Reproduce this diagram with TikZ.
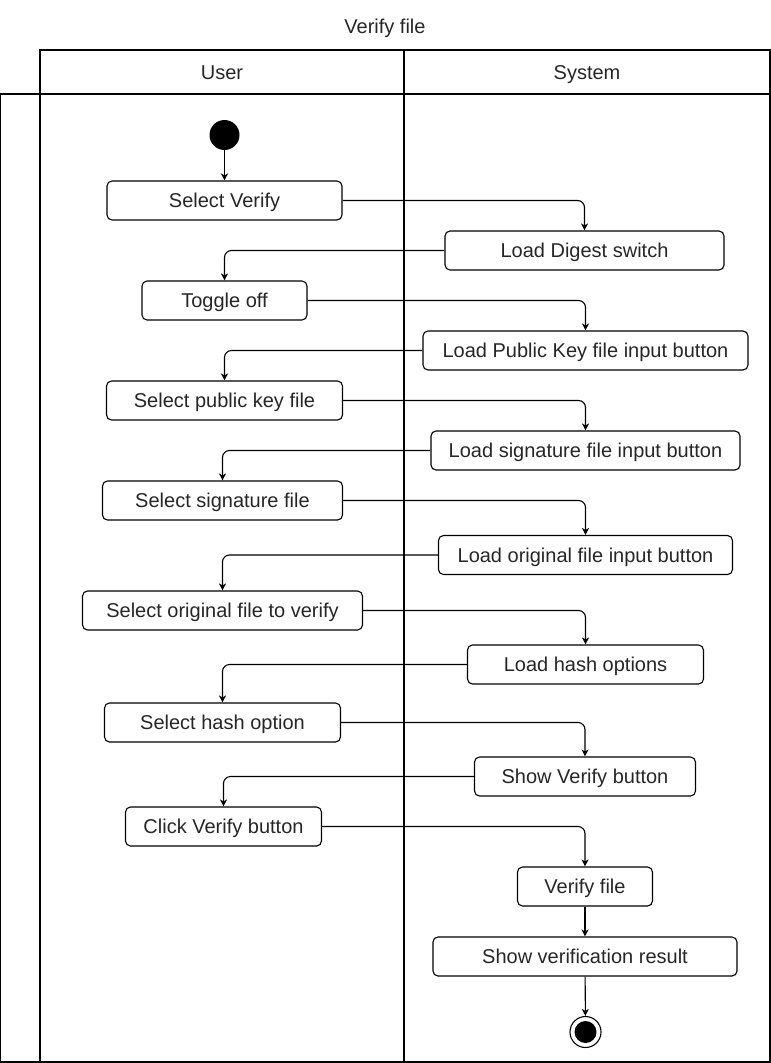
\documentclass[tikz,border=0pt]{standalone}
\usepackage{fontspec}
\setmainfont{Liberation Sans}
\usetikzlibrary{arrows.meta}
\begin{document}
\begin{tikzpicture}[x=1pt,y=-1pt,
  txt/.style={font=\fontsize{20}{24}\selectfont, text=black!85, text height=18pt, text depth=3.6pt},
  act/.style={txt, draw, rounded corners=5pt, line width=1.1pt, minimum height=39pt, inner sep=0pt},
  lane/.style={line width=1.3pt},
  flow/.style={line width=1.1pt, rounded corners=7pt, -{Stealth[length=7pt,width=7pt,inset=2pt]}}]
\useasboundingbox (0,0) rectangle (771,1063);
% swimlane frame
\draw[lane] (0,94) rectangle (770,1062);
\draw[lane] (40,50) rectangle (770,94);
\draw[lane] (40,50) -- (40,1062);
\draw[lane] (404,50) -- (404,1062);
\node[txt] (title) at (385,26) {Verify file};
\node[txt] (user) at (222,72.5) {User};
\node[txt] (system) at (587,72.5) {System};
% nodes
\node[circle, fill=black, minimum size=30pt, inner sep=0pt] (start) at (224.5,135) {};
\node[act, minimum width=235pt] (sv)  at (224.5,200.5) {Select Verify};
\node[act, minimum width=279pt] (lds) at (584.5,250.5) {Load Digest switch};
\node[act, minimum width=165pt] (to)  at (224.5,300.5) {Toggle off};
\node[act, minimum width=325pt] (lpk) at (585.5,350.5) {Load Public Key file input button};
\node[act, minimum width=236pt] (spk) at (224.5,400.5) {Select public key file};
\node[act, minimum width=309pt] (lsf) at (585.5,450.5) {Load signature file input button};
\node[act, minimum width=240pt] (ssf) at (222.5,500.5) {Select signature file};
\node[act, minimum width=294pt] (lof) at (585.5,555) {Load original file input button};
\node[act, minimum width=280pt] (sof) at (222.5,610.5) {Select original file to verify};
\node[act, minimum width=236pt] (lho) at (585.5,664.5) {Load hash options};
\node[act, minimum width=236pt] (sho) at (222.5,722.5) {Select hash option};
\node[act, minimum width=221pt] (svb) at (585,776.5) {Show Verify button};
\node[act, minimum width=196pt] (cvb) at (223.5,826.5) {Click Verify button};
\node[act, minimum width=135pt] (vf)  at (585,886.5) {Verify file};
\node[act, minimum width=304pt] (svr) at (585,956.5) {Show verification result};
\node[circle, draw, line width=1.1pt, minimum size=31pt, inner sep=0pt] (end) at (585.5,1032) {};
\node[circle, fill=black, minimum size=22pt, inner sep=0pt] (endin) at (end.center) {};
% connectors
\draw[flow] (start) -- (sv);
\draw[flow] (sv.east) -| (lds.north);
\draw[flow] (lds.west) -| (to.north);
\draw[flow] (to.east) -| (lpk.north);
\draw[flow] (lpk.west) -| (spk.north);
\draw[flow] (spk.east) -| (lsf.north);
\draw[flow] (lsf.west) -| (ssf.north);
\draw[flow] (ssf.east) -| (lof.north);
\draw[flow] (lof.west) -| (sof.north);
\draw[flow] (sof.east) -| (lho.north);
\draw[flow] (lho.west) -| (sho.north);
\draw[flow] (sho.east) -| (svb.north);
\draw[flow] (svb.west) -| (cvb.north);
\draw[flow] (cvb.east) -| (vf.north);
\draw[flow] (vf) -- (svr);
\draw[flow] (svr) -- (end);
\end{tikzpicture}
\end{document}
